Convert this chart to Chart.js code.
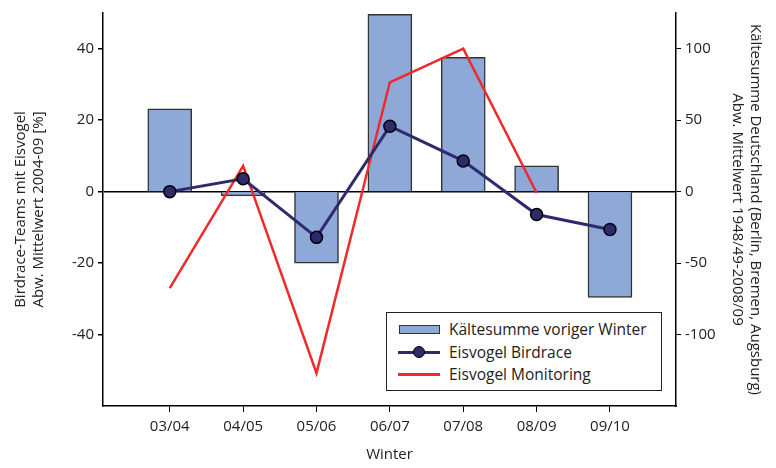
<!DOCTYPE html>
<html>
<head>
<meta charset="utf-8">
<script src="https://cdn.jsdelivr.net/npm/chart.js@4"></script>
<style>
  body { margin: 0; background: #fff; }
  #wrap { position: relative; width: 776px; height: 468px; }
  #legend {
    position: absolute; left: 386px; top: 312px; width: 276px; height: 79px;
    border: 1px solid #222; background: #fff; box-sizing: border-box;
    font-family: "Open Sans", sans-serif; font-size: 15.5px; color: #222;
    padding-top: 5px;
  }
  .row { display: flex; align-items: center; height: 22.5px; }
  .sw { width: 42px; margin-left: 11px; margin-right: 9px; position: relative; height: 14px; }
  .sw.bar { width: 41px; margin-left: 12px; margin-right: 9px; height: 9px; box-sizing: border-box; border: 1px solid #333; background: #8ea8d8; }
  .sw .ln { position: absolute; left: 0; right: 0; top: 6px; height: 3px; }
  .sw .pt { position: absolute; left: 15px; top: 1px; width: 12px; height: 12px; border-radius: 50%; box-sizing: border-box; border: 1.5px solid #000; }
</style>
</head>
<body>
<div id="wrap">
  <canvas id="chart" width="776" height="468"></canvas>
  <div id="legend"></div>
</div>
<script>
const winters = ['03/04', '04/05', '05/06', '06/07', '07/08', '08/09', '09/10'];
const kaeltesumme = [58, -3, -50, 124, 94, 18, -74];
const birdrace = [0, 3.6, -12.8, 18.3, 8.6, -6.4, -10.6];
const monitoring = [-27, 7.2, -50.8, 30.6, 40, -0.3, null];
const leftTicks = [-40, -20, 0, 20, 40];
const rightTicks = [-100, -50, 0, 50, 100];

const font = { family: '"Open Sans", sans-serif', size: 15 };
const ink = '#222';

function pts(values) {
    return values.map((v, i) => ({ x: i, y: v }));
}

const ctx = document.getElementById('chart').getContext('2d');
const chart = new Chart(ctx, {
    data: {
        datasets: [
            {
                type: 'bar',
                label: 'Kältesumme voriger Winter',
                data: pts(kaeltesumme),
                yAxisID: 'yR',
                backgroundColor: '#8ea8d8',
                borderColor: '#333',
                borderWidth: 1.5,
                barThickness: 44,
                order: 3
            },
            {
                type: 'line',
                label: 'Eisvogel Birdrace',
                data: pts(birdrace),
                yAxisID: 'yL',
                borderColor: '#2e2a6e',
                borderWidth: 3,
                pointRadius: 6,
                pointBackgroundColor: '#2e2a6e',
                pointBorderColor: '#000',
                pointBorderWidth: 1.5,
                tension: 0,
                order: 1
            },
            {
                type: 'line',
                label: 'Eisvogel Monitoring',
                data: pts(monitoring),
                yAxisID: 'yL',
                borderColor: '#ee2a2a',
                borderWidth: 2.5,
                pointRadius: 0,
                tension: 0,
                spanGaps: false,
                order: 2
            }
        ]
    },
    options: {
        responsive: false,
        animation: false,
        layout: { padding: { top: 8, left: 0, right: 0, bottom: 0 } },
        plugins: { legend: { display: false }, tooltip: { enabled: false } },
        scales: {
            x: {
                type: 'linear',
                offset: false,
                min: -0.91,
                max: 6.9,
                afterBuildTicks: s => { s.ticks = winters.map((_, i) => ({ value: i })); },
                afterFit: s => { s.height = 62; },
                ticks: {
                    font: font, color: ink, padding: 6,
                    callback: v => winters[v]
                },
                grid: { offset: false, drawOnChartArea: false, tickLength: 6, color: '#000', tickColor: '#000' },
                border: { color: '#000', width: 1.5 },
                title: { display: true, text: 'Winter', font: font, color: ink, padding: { top: 18 } }
            },
            yL: {
                type: 'linear',
                position: 'left',
                min: -60,
                max: 50,
                afterBuildTicks: s => { s.ticks = leftTicks.map(v => ({ value: v })); },
                afterFit: s => { s.width = 103; },
                ticks: { font: font, color: ink, padding: 4 },
                grid: {
                    tickLength: 5,
                    tickColor: '#000',
                    color: c => (c.tick && c.tick.value === 0 ? '#000' : 'rgba(0,0,0,0)'),
                    lineWidth: 1.5
                },
                border: { color: '#000', width: 1.5 },
                title: {
                    display: true,
                    text: ['Birdrace-Teams mit Eisvogel', 'Abw. Mittelwert 2004-09 [%]'],
                    font: font, color: ink, padding: { top: 12, bottom: 4 }
                }
            },
            yR: {
                type: 'linear',
                position: 'right',
                min: -150,
                max: 125,
                afterBuildTicks: s => { s.ticks = rightTicks.map(v => ({ value: v })); },
                afterFit: s => { s.width = 100; },
                ticks: { font: font, color: ink, padding: 4 },
                grid: { drawOnChartArea: false, tickLength: 5, tickColor: '#000' },
                border: { color: '#000', width: 1.5 },
                title: {
                    display: true,
                    text: ['Kältesumme Deutschland (Berlin, Bremen, Augsburg)', 'Abw. Mittelwert 1948/49-2008/09'],
                    font: font, color: ink, padding: { top: 12, bottom: 2 }
                }
            }
        }
    }
});

// legend built from the datasets
const legend = document.getElementById('legend');
chart.data.datasets.forEach(ds => {
    const row = document.createElement('div');
    row.className = 'row';
    let sw;
    if (ds.type === 'bar') {
        sw = '<span class="sw bar"></span>';
    } else {
        sw = '<span class="sw"><span class="ln" style="background:' + ds.borderColor + '"></span>' +
            (ds.pointRadius ? '<span class="pt" style="background:' + ds.pointBackgroundColor + '"></span>' : '') +
            '</span>';
    }
    row.innerHTML = sw + '<span>' + ds.label + '</span>';
    legend.appendChild(row);
});
</script>
</body>
</html>
